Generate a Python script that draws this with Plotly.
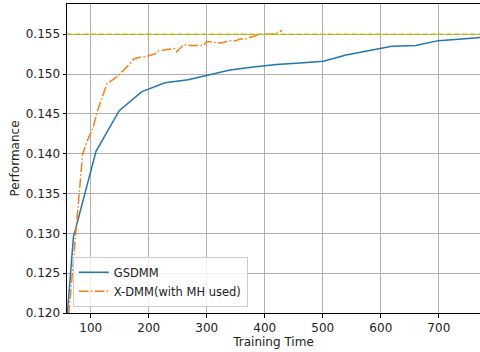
import plotly.graph_objects as go

gsdmm_time = [59.5, 70, 109, 149, 188, 228, 268, 300, 340, 380, 420, 461, 501, 540, 580, 619, 660, 699, 740, 772]
gsdmm_perf = [0.1198, 0.1295, 0.1403, 0.1454, 0.1478, 0.1489, 0.1493, 0.1498, 0.1505, 0.1509, 0.1512, 0.1514,
              0.1516, 0.1524, 0.1530, 0.1535, 0.1536, 0.1542, 0.1544, 0.1546]

xdmm_time = [62, 73, 83, 86, 95, 104, 112, 120, 128, 140, 150, 162, 168, 174, 185, 196, 208, 213, 217, 231,
             245, 248, 255, 260, 272, 283, 295, 300, 310, 323, 330, 340, 350, 357, 366, 375, 386, 392, 397,
             410, 420, 426, 430]
xdmm_perf = [0.1198, 0.1295, 0.1379, 0.1400, 0.1418, 0.1433, 0.1455, 0.1472, 0.1488, 0.1494, 0.1500, 0.1509,
             0.1513, 0.1519, 0.1521, 0.1522, 0.1525, 0.1526, 0.1529, 0.1531, 0.1532, 0.1528, 0.1533, 0.1537,
             0.1536, 0.1536, 0.1536, 0.1541, 0.1540, 0.1539, 0.1540, 0.1542, 0.1542, 0.1544, 0.1544, 0.1546,
             0.1548, 0.1550, 0.1550, 0.1550, 0.1551, 0.1554, 0.1555]

reference_level = 0.155

x_ticks = [100, 200, 300, 400, 500, 600, 700]
y_ticks = [0.120, 0.125, 0.130, 0.135, 0.140, 0.145, 0.150, 0.155]
y_tick_text = ["0.120", "0.125", "0.130", "0.135", "0.140", "0.145", "0.150", "0.155"]

fig = go.Figure()
fig.add_trace(go.Scatter(x=gsdmm_time, y=gsdmm_perf, mode="lines", name="GSDMM",
                         line=dict(color="#1f77b4", width=1.5)))
fig.add_trace(go.Scatter(x=xdmm_time, y=xdmm_perf, mode="lines", name="X-DMM(with MH used)",
                         line=dict(color="#ff7f0e", width=1.5, dash="9.6px,2.4px,1.5px,2.4px")))
fig.add_hline(y=reference_level, line=dict(color="#bfbf00", width=1.5, dash="5.5px,2.4px"))

font = "DejaVu Sans, sans-serif"
fig.update_layout(
    width=480, height=352,
    margin=dict(l=67, r=0, t=4, b=39, autoexpand=False),
    paper_bgcolor="white", plot_bgcolor="white",
    font=dict(family=font, size=12, color="#222222"),
    showlegend=True,
    legend=dict(x=0.014, y=0.02, xanchor="left", yanchor="bottom",
                bgcolor="rgba(255,255,255,0.8)", bordercolor="#cccccc", borderwidth=1,
                font=dict(family=font, size=11.5), itemwidth=30, tracegroupgap=0),
)
fig.update_xaxes(range=[59, 771], tickvals=x_ticks, showgrid=True, gridcolor="#b0b0b0", gridwidth=1,
                 showline=True, linecolor="black", linewidth=1, mirror=True, automargin=False,
                 ticks="outside", ticklen=3.5, tickcolor="black", zeroline=False,
                 title=dict(text="Training Time", font=dict(size=12), standoff=3))
fig.update_yaxes(range=[0.1200, 0.1588], tickvals=y_ticks, ticktext=y_tick_text, showgrid=True,
                 gridcolor="#b0b0b0", gridwidth=1, automargin=False,
                 showline=True, linecolor="black", linewidth=1, mirror=True,
                 ticks="outside", ticklen=3.5, tickcolor="black", zeroline=False,
                 title=dict(text="Performance", font=dict(size=12), standoff=3))

fig.write_html("out.html", config={"displayModeBar": False},
               post_script="document.body.style.margin='0';document.body.style.overflow='hidden';")
